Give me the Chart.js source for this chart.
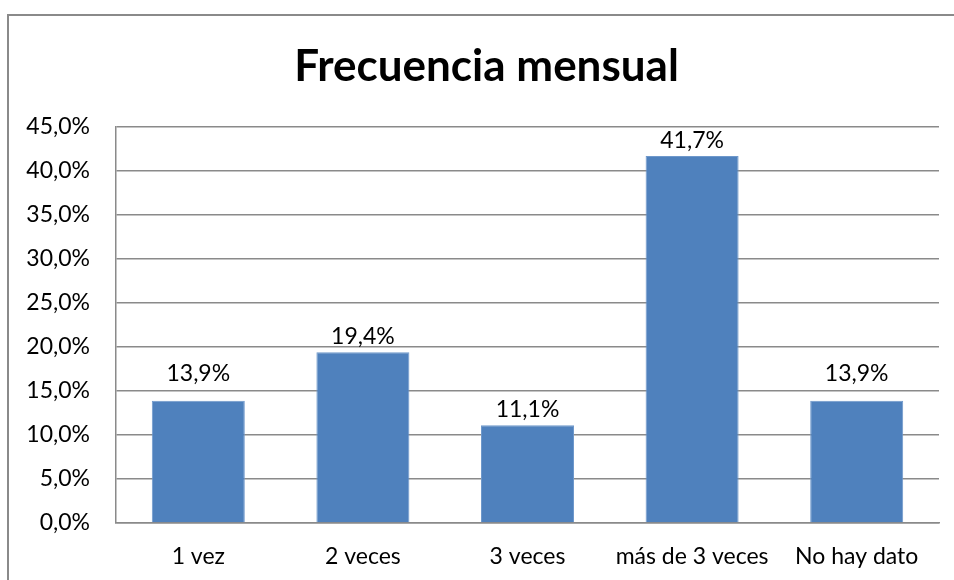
<!DOCTYPE html>
<html>
<head>
<meta charset="utf-8">
<script src="https://cdn.jsdelivr.net/npm/chart.js@4"></script>
<style>
    html, body { margin: 0; padding: 0; background: #fff; overflow: hidden; }
    body { width: 954px; height: 580px; position: relative; }
    #box {
        position: absolute; left: 7px; top: 14px;
        border-left: 2px solid #8a8a8a; border-top: 2px solid #8a8a8a;
        width: 964px; height: 564px;
    }
    canvas { display: block; }
</style>
</head>
<body>
<div id="box"><canvas id="myChart" width="955" height="564"></canvas></div>
<script>
const categories = ['1 vez', '2 veces', '3 veces', 'más de 3 veces', 'No hay dato'];
const values = [13.9, 19.4, 11.1, 41.7, 13.9];
const tickValues = [0, 5, 10, 15, 20, 25, 30, 35, 40, 45];
const chartTitle = 'Frecuencia mensual';

const fmt = v => v.toFixed(1).replace('.', ',') + '%';
const FONT = 'Lato, "Open Sans", sans-serif';

// title centred on the whole chart box, not only on the plot
const titlePlugin = {
    id: 'titlePlugin',
    afterDraw(chart) {
        const ctx = chart.ctx;
        ctx.save();
        ctx.font = 'bold 44px ' + FONT;
        ctx.fillStyle = '#000';
        ctx.textAlign = 'center';
        ctx.textBaseline = 'alphabetic';
        ctx.fillText(chartTitle, chart.width / 2, 65);
        ctx.restore();
    }
};

// labels above every bar, nudged up when a gridline would run through them
const barLabels = {
    id: 'barLabels',
    afterDatasetsDraw(chart) {
        const ctx = chart.ctx;
        const yScale = chart.scales.y;
        const meta = chart.getDatasetMeta(0);
        const h = 17;
        ctx.save();
        ctx.font = '23px ' + FONT;
        ctx.fillStyle = '#000';
        ctx.textAlign = 'center';
        ctx.textBaseline = 'alphabetic';
        meta.data.forEach((bar, i) => {
            let bottom = bar.y - 8;
            tickValues.forEach(t => {
                const gy = yScale.getPixelForValue(t);
                if (gy < bar.y - 1 && gy > bottom - h - 2 && gy < bottom + 1) {
                    bottom = gy - 10;
                }
            });
            ctx.fillText(fmt(values[i]), bar.x, bottom);
        });
        ctx.restore();
    }
};

const ctx = document.getElementById('myChart').getContext('2d');
new Chart(ctx, {
    type: 'bar',
    data: {
        labels: categories,
        datasets: [{
            data: values,
            backgroundColor: '#4f81bd',
            borderColor: '#6e98cb',
            borderWidth: 1,
            barPercentage: 0.565,
            categoryPercentage: 1
        }]
    },
    options: {
        responsive: false,
        animation: false,
        layout: { padding: { left: 0, right: 25, top: 111, bottom: 0 } },
        plugins: {
            legend: { display: false },
            tooltip: { enabled: false },
            title: { display: false }
        },
        scales: {
            x: {
                grid: { display: false, drawTicks: false },
                border: { color: '#8a8a8a', width: 1.5 },
                ticks: {
                    color: '#000',
                    font: { family: FONT, size: 23 },
                    padding: 20,
                    maxRotation: 0,
                    autoSkip: false
                },
                afterFit(scale) { scale.height = 57; }
            },
            y: {
                min: 0,
                max: 45,
                afterBuildTicks(scale) {
                    scale.ticks = tickValues.map(v => ({ value: v }));
                },
                grid: { color: '#8a8a8a', lineWidth: 1.5, drawTicks: false },
                border: { color: '#8a8a8a', width: 1.5 },
                ticks: {
                    color: '#000',
                    font: { family: FONT, size: 23 },
                    padding: 26,
                    callback: v => fmt(v)
                },
                afterFit(scale) { scale.width = 107; }
            }
        }
    },
    plugins: [barLabels, titlePlugin]
});
</script>
</body>
</html>
